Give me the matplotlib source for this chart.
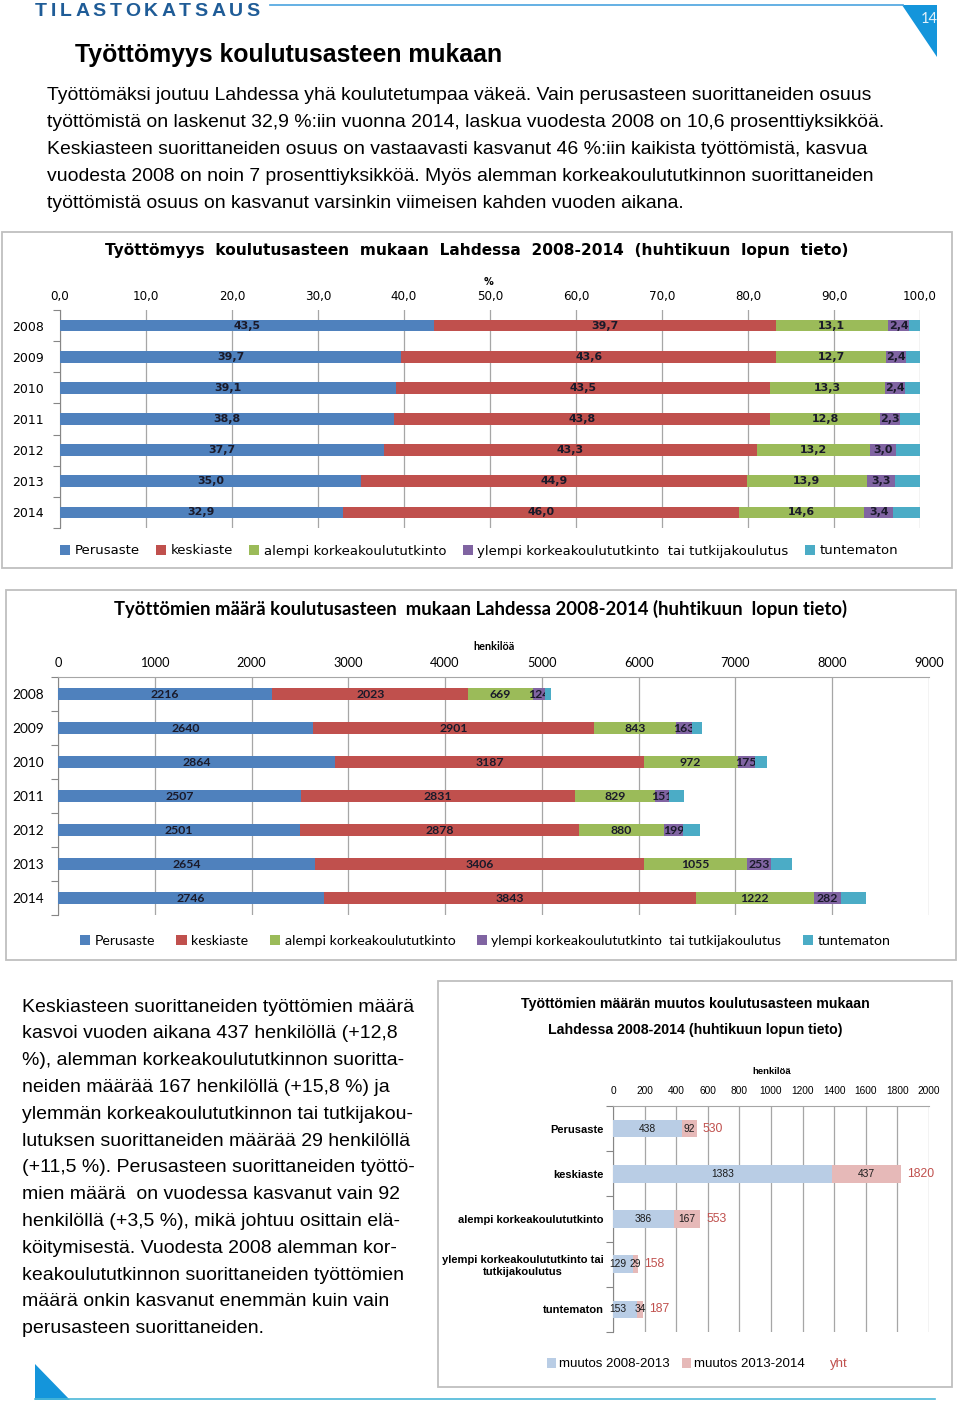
import matplotlib
matplotlib.use('Agg')
import matplotlib.pyplot as plt
from matplotlib.patches import Rectangle, Polygon
from matplotlib.lines import Line2D
import numpy as np

W, H = 960, 1402

years = ['2008', '2009', '2010', '2011', '2012', '2013', '2014']
levels = ['Perusaste', 'keskiaste', 'alempi korkeakoulututkinto',
          'ylempi korkeakoulututkinto  tai tutkijakoulutus', 'tuntematon']

# osuudet, %
pct_perus = [43.5, 39.7, 39.1, 38.8, 37.7, 35.0, 32.9]
pct_keski = [39.7, 43.6, 43.5, 43.8, 43.3, 44.9, 46.0]
pct_alempi = [13.1, 12.7, 13.3, 12.8, 13.2, 13.9, 14.6]
pct_ylempi = [2.4, 2.4, 2.4, 2.3, 3.0, 3.3, 3.4]
pct_tuntematon = [1.3, 1.6, 1.7, 2.3, 2.8, 2.9, 3.1]

# henkilöä
n_perus = [2216, 2640, 2864, 2507, 2501, 2654, 2746]
n_keski = [2023, 2901, 3187, 2831, 2878, 3406, 3843]
n_alempi = [669, 843, 972, 829, 880, 1055, 1222]
n_ylempi = [124, 163, 175, 151, 199, 253, 282]
n_tuntematon = [65, 106, 127, 146, 180, 218, 252]

change_cats = ['Perusaste', 'keskiaste', 'alempi korkeakoulututkinto',
               'ylempi korkeakoulututkinto tai\ntutkijakoulutus', 'tuntematon']
change_0813 = [438, 1383, 386, 129, 153]
change_1314 = [92, 437, 167, 29, 34]
change_total = [530, 1820, 553, 158, 187]

colors = ['#4F81BD', '#C0504D', '#9BBB59', '#8064A2', '#4BACC6']
RED = '#C0504D'
GRID = '#A6A6A6'

ARIAL = ['Liberation Sans', 'DejaVu Sans']
VERD = ['DejaVu Sans']
CALI = ['Lato', 'DejaVu Sans']

fig = plt.figure(figsize=(W / 100, H / 100), dpi=100)


def px_axes(x0, y0, x1, y1):
    return fig.add_axes([x0 / W, 1 - y1 / H, (x1 - x0) / W, (y1 - y0) / H])


def ftext(x, y, s, **kw):
    kw.setdefault('va', 'center')
    return fig.text(x / W, 1 - y / H, s, **kw)


def frame(x0, y0, x1, y1):
    fig.add_artist(Rectangle((x0 / W, 1 - y1 / H), (x1 - x0) / W, (y1 - y0) / H,
                             transform=fig.transFigure, fill=False,
                             ec='#BFBFBF', lw=1.3))


# --- page header: spaced-out letters with equal gaps ---
renderer = fig.canvas.get_renderer()
letters = [ftext(0, 12, ch, fontsize=14, fontweight='bold', family=ARIAL,
                 color='#1F5C97', ha='left') for ch in 'TILASTOKATSAUS']
widths = [t.get_window_extent(renderer).width for t in letters]
gap = (225 - sum(widths)) / (len(letters) - 1)
xpos = 35
for t, w in zip(letters, widths):
    t.set_x(xpos / W)
    xpos += w + gap
fig.add_artist(Line2D([270 / W, 903 / W], [1 - 5 / H, 1 - 5 / H],
                      transform=fig.transFigure, color='#4AA3DF', lw=1.2))
fig.add_artist(Polygon([[902 / W, 1 - 5 / H], [937 / W, 1 - 5 / H], [937 / W, 1 - 57 / H]],
                       closed=True, transform=fig.transFigure, color='#1495DB', lw=0))
ftext(929, 19, '14', fontsize=10.5, color='#E3F2FB', family=CALI, ha='center')

ftext(75, 55, 'Työttömyys koulutusasteen mukaan', fontsize=17.9,
      fontweight='bold', family=ARIAL, ha='left')

intro = ['Työttömäksi joutuu Lahdessa yhä koulutetumpaa väkeä. Vain perusasteen suorittaneiden osuus',
         'työttömistä on laskenut 32,9 %:iin vuonna 2014, laskua vuodesta 2008 on 10,6 prosenttiyksikköä.',
         'Keskiasteen suorittaneiden osuus on vastaavasti kasvanut 46 %:iin kaikista työttömistä, kasvua',
         'vuodesta 2008 on noin 7 prosenttiyksikköä. Myös alemman korkeakoulututkinnon suorittaneiden',
         'työttömistä osuus on kasvanut varsinkin viimeisen kahden vuoden aikana.']
for i, line in enumerate(intro):
    ftext(47, 96 + i * 26.8, line, fontsize=13.95, family=ARIAL, ha='left')


def stacked(ax, series, fmt, size, family, height):
    y = np.arange(len(series[0]))
    left = np.zeros(len(series[0]))
    for k, (vals, c, name) in enumerate(zip(series, colors, levels)):
        vals = np.array(vals, float)
        bars = ax.barh(y, vals, left=left, height=height, color=c, label=name, zorder=3)
        if k < 4:
            ax.bar_label(bars, labels=[fmt(v) for v in vals], label_type='center',
                         fontsize=size, fontweight='bold', family=family,
                         color='#1A1A2A')
        left += vals
    return y


def style_axes(ax, n, family, size_tick, size_cat, cats, top_line, xpad, ypad,
               cat_bold=False):
    ax.set_ylim(n - 0.5, -0.5)
    ax.set_yticks(range(n))
    ax.set_yticklabels(cats, fontsize=size_cat, family=family,
                       fontweight='bold' if cat_bold else 'normal')
    ax.set_yticks(np.arange(-0.5, n, 1.0), minor=True)
    ax.tick_params(axis='y', which='major', length=0, pad=ypad)
    ax.tick_params(axis='y', which='minor', length=5, color='#868686', width=0.8)
    ax.xaxis.tick_top()
    ax.tick_params(axis='x', length=0, pad=xpad, labelsize=size_tick)
    for lab in ax.get_xticklabels():
        lab.set_family(family)
    ax.grid(axis='x', color=GRID, lw=0.9, zorder=0)
    for s in ['right', 'bottom']:
        ax.spines[s].set_visible(False)
    ax.spines['top'].set_visible(top_line)
    ax.spines['top'].set_color(GRID)
    ax.spines['left'].set_color('#868686')
    ax.set_facecolor('none')


# --- chart 1: percentages ---
frame(2, 232, 952, 568)
ax1 = px_axes(60, 310, 920, 528)
stacked(ax1, [pct_perus, pct_keski, pct_alempi, pct_ylempi, pct_tuntematon],
        lambda v: f'{v:.1f}'.replace('.', ','), 7.9, VERD, 0.38)
ax1.set_xlim(0, 100)
ax1.set_xticks(np.arange(0, 101, 10))
ax1.set_xticklabels([f'{v:.1f}'.replace('.', ',') for v in np.arange(0, 101, 10)])
style_axes(ax1, 7, VERD, 8.6, 9, years, False, 5, 11.5)
ftext(477, 250, 'Työttömyys  koulutusasteen  mukaan  Lahdessa  2008-2014  (huhtikuun  lopun  tieto)',
      fontsize=11.05, fontweight='bold', family=VERD, ha='center')
ftext(489, 282, '%', fontsize=7, fontweight='bold', family=VERD, ha='center')
ax1.legend(ncol=5, loc='center', bbox_to_anchor=(419 / 860, -23 / 218), frameon=False,
           prop={'family': VERD, 'size': 9.5}, handlelength=0.75, handleheight=0.75,
           handletextpad=0.35, columnspacing=1.25)

# --- chart 2: counts ---
frame(6, 590, 956, 960)
ax2 = px_axes(58, 677, 929, 915)
stacked(ax2, [n_perus, n_keski, n_alempi, n_ylempi, n_tuntematon],
        lambda v: f'{v:.0f}', 8.8, CALI, 0.38)
ax2.set_xlim(0, 9000)
ax2.set_xticks(np.arange(0, 9001, 1000))
style_axes(ax2, 7, CALI, 9.2, 9.8, years, True, 6, 10)
ftext(480, 609, 'Työttömien määrä koulutusasteen  mukaan Lahdessa 2008-2014 (huhtikuun  lopun tieto)',
      fontsize=13.3, fontweight='bold', family=CALI, ha='center')
ftext(494, 646, 'henkilöä', fontsize=7.8, fontweight='bold', family=CALI, ha='center')
ax2.legend(ncol=5, loc='center', bbox_to_anchor=(427 / 871, -26 / 238), frameon=False,
           prop={'family': CALI, 'size': 10.2}, handlelength=0.75, handleheight=0.75,
           handletextpad=0.3, columnspacing=1.5)

# --- left text block ---
body = ['Keskiasteen suorittaneiden työttömien määrä',
        'kasvoi vuoden aikana 437 henkilöllä (+12,8',
        '%), alemman korkeakoulututkinnon suoritta-',
        'neiden määrää 167 henkilöllä (+15,8 %) ja',
        'ylemmän korkeakoulututkinnon tai tutkijakou-',
        'lutuksen suorittaneiden määrää 29 henkilöllä',
        '(+11,5 %). Perusasteen suorittaneiden työttö-',
        'mien määrä  on vuodessa kasvanut vain 92',
        'henkilöllä (+3,5 %), mikä johtuu osittain elä-',
        'köitymisestä. Vuodesta 2008 alemman kor-',
        'keakoulututkinnon suorittaneiden työttömien',
        'määrä onkin kasvanut enemmän kuin vain',
        'perusasteen suorittaneiden.']
for i, line in enumerate(body):
    ftext(22, 1007 + i * 26.8, line, fontsize=14, family=ARIAL, ha='left')

# --- chart 3: change ---
frame(438, 981, 952, 1387)
ax3 = px_axes(613, 1106, 929, 1332)
y3 = np.arange(len(change_cats))
b1 = ax3.barh(y3, change_0813, height=0.39, color='#B9CDE5', label='muutos 2008-2013', zorder=3)
b2 = ax3.barh(y3, change_1314, left=change_0813, height=0.39, color='#E6B9B8',
              label='muutos 2013-2014', zorder=3)
for i, v in enumerate(change_0813):
    # narrow segments: label pushed to the start of the bar as in the original
    ax3.annotate(str(v), (v / 2 if v >= 200 else 0, i),
                 xytext=(0 if v >= 200 else -3, 0), textcoords='offset points',
                 ha='center' if v >= 200 else 'left', va='center',
                 fontsize=7.4, family=ARIAL, color='#1A1A1A', zorder=4,
                 annotation_clip=False)
ax3.bar_label(b2, label_type='center', fontsize=7.4, family=ARIAL, color='#1A1A1A')
for i, t in enumerate(change_total):
    ax3.annotate(str(t), (t, i), xytext=(4.5, 0), textcoords='offset points',
                 va='center', ha='left', fontsize=8.8, family=ARIAL, color=RED)
ax3.set_xlim(0, 2000)
ax3.set_xticks(np.arange(0, 2001, 200))
style_axes(ax3, 5, ARIAL, 7.3, 8, change_cats, True, 7, 6.5, cat_bold=True)
for lab in ax3.get_yticklabels():
    lab.set_multialignment('center')
ftext(695, 1004, 'Työttömien määrän muutos koulutusasteen mukaan', fontsize=10.2,
      fontweight='bold', family=ARIAL, ha='center')
ftext(695, 1030, 'Lahdessa 2008-2014 (huhtikuun lopun tieto)', fontsize=10.2,
      fontweight='bold', family=ARIAL, ha='center')
ftext(772, 1071, 'henkilöä', fontsize=6.8, fontweight='bold', family=ARIAL, ha='center')
h3 = [b1, b2, Line2D([], [], linestyle='none')]
leg3 = ax3.legend(h3, ['muutos 2008-2013', 'muutos 2013-2014', 'yht'], ncol=3, loc='center',
                  bbox_to_anchor=(84 / 316, -32 / 226), frameon=False,
                  prop={'family': ARIAL, 'size': 9.5}, handlelength=0.7, handleheight=0.85,
                  handletextpad=0.25, columnspacing=0.9)
leg3.get_texts()[2].set_color(RED)

# --- page footer ---
fig.add_artist(Polygon([[35 / W, 1 - 1364 / H], [35 / W, 1 - 1400 / H], [70 / W, 1 - 1400 / H]],
                       closed=True, transform=fig.transFigure, color='#1495DB', lw=0))
fig.add_artist(Line2D([35 / W, 935 / W], [1 - 1399 / H, 1 - 1399 / H],
                      transform=fig.transFigure, color='#4BB8D8', lw=1.2))

fig.savefig('out.png', dpi=100)
